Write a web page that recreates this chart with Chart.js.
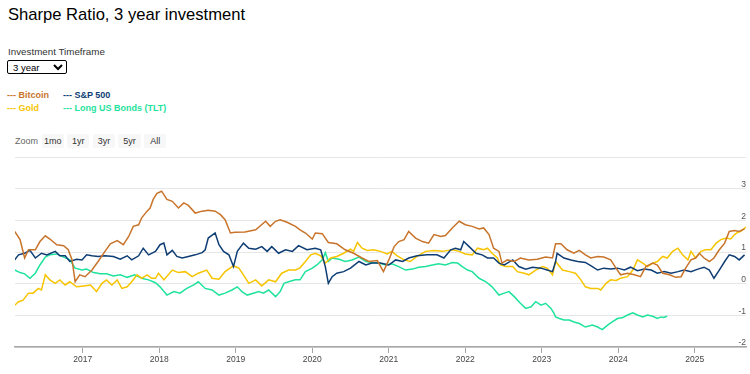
<!DOCTYPE html>
<html>
<head>
<meta charset="utf-8">
<script src="https://cdn.jsdelivr.net/npm/chart.js@4.4.1/dist/chart.umd.min.js"></script>
<style>
html,body{margin:0;padding:0;background:#fff;width:750px;height:374px;overflow:hidden;font-family:"Liberation Sans",Arial,sans-serif;}
#title{position:absolute;left:8px;top:6.6px;font-size:16.6px;line-height:16.6px;color:#000;white-space:nowrap;}
#tfLabel{position:absolute;left:8px;top:47px;font-size:9.8px;line-height:9.8px;color:#333;white-space:nowrap;}
#tf{position:absolute;left:7px;top:59.5px;width:60px;height:14px;box-sizing:border-box;font-family:"Liberation Sans",Arial,sans-serif;font-size:9.5px;padding:0 0 0 1px;border:1px solid #000;border-radius:2px;background:#fff;color:#000;}
.lg{position:absolute;font-size:9px;line-height:9px;font-weight:bold;white-space:nowrap;}
#zoomLabel{position:absolute;left:15px;top:137px;font-size:9px;line-height:9px;color:#666;}
.btn{position:absolute;top:134px;width:22.3px;height:14.3px;line-height:14.3px;text-align:center;font-size:9px;color:#333;background:#f7f7f7;border-radius:2px;}
#chartBox{position:absolute;left:0;top:150px;width:750px;height:224px;}
</style>
</head>
<body>
<div id="title">Sharpe Ratio, 3 year investment</div>
<div id="tfLabel">Investment Timeframe</div>
<select id="tf"><option>3 year</option><option>1 year</option><option>5 year</option></select>
<div id="legend"></div>
<div id="zoomLabel">Zoom</div>
<div id="zoomBtns"></div>
<div id="chartBox"><canvas id="c"></canvas></div>
<script>
// ---- data (decimal years, Sharpe ratio) ----
const seriesNames = ['Bitcoin', 'S&P 500', 'Gold', 'Long US Bonds (TLT)'];

const btcYears = [2016.11,2016.18,2016.24,2016.29,2016.38,2016.44,2016.51,2016.57,2016.66,2016.75,2016.81,2016.86,2016.90,2016.96,2017.03,2017.12,2017.20,2017.29,2017.36,2017.45,2017.53,2017.60,2017.66,2017.73,2017.77,2017.84,2017.88,2017.92,2017.97,2018.03,2018.10,2018.17,2018.25,2018.32,2018.38,2018.47,2018.56,2018.64,2018.73,2018.80,2018.86,2018.93,2018.99,2019.12,2019.26,2019.39,2019.45,2019.52,2019.58,2019.67,2019.78,2019.84,2019.91,2020.00,2020.04,2020.13,2020.21,2020.32,2020.43,2020.54,2020.65,2020.74,2020.85,2020.93,2021.00,2021.07,2021.13,2021.20,2021.26,2021.35,2021.44,2021.52,2021.59,2021.68,2021.74,2021.83,2021.92,2022.00,2022.09,2022.18,2022.24,2022.31,2022.37,2022.44,2022.48,2022.55,2022.64,2022.72,2022.83,2022.94,2023.05,2023.14,2023.18,2023.25,2023.33,2023.42,2023.49,2023.57,2023.64,2023.73,2023.81,2023.90,2023.97,2024.03,2024.12,2024.21,2024.29,2024.36,2024.45,2024.51,2024.58,2024.67,2024.75,2024.82,2024.88,2024.95,2025.01,2025.06,2025.12,2025.19,2025.25,2025.32,2025.39,2025.45,2025.52,2025.58,2025.65];
const btcValues = [1.65,1.39,0.81,1.07,1.07,1.33,1.51,1.41,1.23,1.20,1.07,0.75,0.06,0.28,0.22,0.43,0.70,1.02,1.26,1.36,1.23,1.49,1.81,1.86,2.08,2.29,2.39,2.66,2.85,2.92,2.66,2.60,2.39,2.55,2.47,2.23,2.29,2.32,2.29,2.18,2.02,1.60,1.62,1.63,1.70,1.97,1.81,1.97,2.02,1.94,1.81,1.70,1.60,1.41,1.60,1.58,1.30,1.26,1.07,0.96,0.81,0.70,0.73,0.38,0.75,1.17,1.33,1.39,1.65,1.44,1.33,1.28,1.55,1.49,1.52,1.76,1.97,1.86,1.81,1.73,1.76,1.55,1.12,1.02,0.65,0.75,0.70,0.81,0.75,0.77,0.84,0.81,1.26,1.26,1.07,0.96,1.05,0.91,0.81,0.86,0.84,0.75,0.49,0.28,0.33,0.28,0.22,0.54,0.65,0.59,0.33,0.28,0.20,0.22,0.49,0.75,0.81,0.96,0.81,0.70,0.81,1.07,1.28,1.65,1.68,1.65,1.73];

const spxYears = [2016.11,2016.16,2016.24,2016.31,2016.38,2016.46,2016.53,2016.64,2016.70,2016.77,2016.83,2016.92,2016.99,2017.05,2017.12,2017.20,2017.29,2017.40,2017.49,2017.58,2017.64,2017.73,2017.79,2017.86,2017.95,2018.01,2018.06,2018.10,2018.17,2018.23,2018.30,2018.38,2018.47,2018.56,2018.60,2018.64,2018.73,2018.78,2018.84,2018.91,2018.97,2019.02,2019.10,2019.17,2019.26,2019.34,2019.41,2019.47,2019.56,2019.65,2019.74,2019.82,2019.93,2020.04,2020.11,2020.17,2020.21,2020.26,2020.32,2020.41,2020.50,2020.61,2020.70,2020.78,2020.89,2021.00,2021.09,2021.18,2021.26,2021.37,2021.50,2021.63,2021.72,2021.81,2021.87,2021.94,2021.98,2022.05,2022.14,2022.22,2022.29,2022.37,2022.44,2022.51,2022.62,2022.70,2022.79,2022.88,2022.99,2023.07,2023.14,2023.18,2023.20,2023.29,2023.38,2023.47,2023.57,2023.66,2023.73,2023.81,2023.90,2023.99,2024.08,2024.16,2024.25,2024.34,2024.43,2024.51,2024.60,2024.69,2024.78,2024.86,2024.95,2025.04,2025.12,2025.19,2025.25,2025.32,2025.39,2025.45,2025.52,2025.58,2025.65];
const spxValues = [0.75,0.91,0.96,1.05,0.81,0.96,0.91,1.02,0.88,0.88,0.70,0.77,0.75,0.91,0.88,0.86,0.88,0.86,0.77,0.88,0.75,0.88,1.12,0.91,1.02,1.23,1.28,0.91,1.05,0.86,0.81,0.86,0.91,0.98,1.07,1.44,1.60,1.23,1.02,0.91,0.54,1.02,1.28,1.12,1.09,1.17,1.02,1.17,0.96,1.07,1.02,1.20,1.07,1.12,1.07,0.54,0.01,0.22,0.33,0.38,0.49,0.70,0.59,0.65,0.65,0.59,0.75,0.70,0.81,0.88,0.91,0.91,0.81,1.07,1.12,1.07,1.33,1.17,0.96,0.91,0.81,0.81,0.65,0.59,0.75,0.54,0.46,0.52,0.49,0.43,0.38,0.70,0.96,0.81,0.75,0.70,0.67,0.54,0.43,0.49,0.46,0.49,0.43,0.52,0.41,0.46,0.43,0.33,0.38,0.33,0.38,0.43,0.38,0.46,0.52,0.43,0.17,0.43,0.70,0.91,0.86,0.75,0.91];

const goldYears = [2016.11,2016.16,2016.22,2016.29,2016.35,2016.42,2016.46,2016.51,2016.57,2016.64,2016.70,2016.77,2016.83,2016.92,2017.01,2017.10,2017.18,2017.25,2017.31,2017.38,2017.45,2017.51,2017.58,2017.64,2017.71,2017.77,2017.84,2017.90,2017.95,2017.99,2018.06,2018.17,2018.25,2018.34,2018.43,2018.51,2018.62,2018.69,2018.78,2018.86,2018.97,2019.04,2019.10,2019.17,2019.26,2019.34,2019.43,2019.52,2019.60,2019.69,2019.78,2019.84,2019.91,2019.98,2020.04,2020.11,2020.17,2020.24,2020.32,2020.41,2020.50,2020.54,2020.59,2020.65,2020.72,2020.80,2020.89,2020.98,2021.04,2021.11,2021.20,2021.28,2021.37,2021.48,2021.59,2021.70,2021.83,2021.92,2022.00,2022.09,2022.16,2022.24,2022.29,2022.35,2022.42,2022.46,2022.53,2022.62,2022.68,2022.77,2022.83,2022.92,2023.01,2023.07,2023.14,2023.18,2023.27,2023.36,2023.44,2023.51,2023.57,2023.64,2023.73,2023.77,2023.84,2023.90,2023.97,2024.03,2024.12,2024.19,2024.25,2024.32,2024.38,2024.45,2024.51,2024.58,2024.64,2024.71,2024.78,2024.84,2024.91,2024.95,2025.01,2025.08,2025.14,2025.21,2025.28,2025.34,2025.41,2025.47,2025.52,2025.56,2025.60,2025.67];
const goldValues = [-0.68,-0.57,-0.52,-0.30,-0.30,-0.15,-0.20,0.28,0.12,0.01,0.12,-0.04,0.06,-0.10,-0.07,-0.04,-0.25,0.01,0.12,-0.04,0.12,-0.15,-0.10,0.06,0.28,0.17,0.28,0.17,0.17,0.33,0.12,0.43,0.35,0.38,0.22,0.33,0.43,0.17,0.14,0.38,0.56,0.49,0.28,0.01,0.12,-0.07,0.12,0.06,0.33,0.43,0.43,0.50,0.70,0.91,0.96,0.88,0.65,0.81,0.86,0.96,1.09,1.02,1.30,1.12,1.05,1.07,1.02,0.94,1.02,0.88,0.75,0.70,0.86,1.02,1.05,1.02,1.07,1.02,0.94,0.91,1.12,1.07,1.12,0.96,0.81,0.59,0.54,0.54,0.38,0.33,0.28,0.43,0.54,0.49,0.28,0.70,0.43,0.38,0.33,0.12,-0.10,-0.15,-0.15,-0.20,0.01,0.12,0.10,0.17,0.22,0.43,0.75,0.65,0.54,0.65,0.70,0.86,0.81,1.02,1.12,0.91,0.75,1.02,0.81,1.02,1.07,1.07,1.28,1.39,1.44,1.41,1.55,1.62,1.65,1.79];

const tltYears = [2016.11,2016.18,2016.24,2016.31,2016.38,2016.44,2016.51,2016.57,2016.66,2016.75,2016.83,2016.90,2016.99,2017.05,2017.14,2017.23,2017.31,2017.40,2017.49,2017.58,2017.68,2017.77,2017.86,2017.95,2018.01,2018.10,2018.19,2018.27,2018.36,2018.45,2018.51,2018.60,2018.69,2018.78,2018.86,2018.95,2019.02,2019.08,2019.15,2019.23,2019.30,2019.36,2019.43,2019.52,2019.58,2019.63,2019.69,2019.78,2019.84,2019.91,2020.00,2020.06,2020.13,2020.17,2020.21,2020.26,2020.35,2020.43,2020.52,2020.61,2020.70,2020.78,2020.87,2020.96,2021.04,2021.13,2021.22,2021.31,2021.39,2021.48,2021.57,2021.65,2021.74,2021.83,2021.90,2021.96,2022.03,2022.09,2022.18,2022.27,2022.35,2022.44,2022.51,2022.57,2022.64,2022.72,2022.79,2022.86,2022.92,2022.99,2023.05,2023.12,2023.16,2023.18,2023.23,2023.29,2023.36,2023.42,2023.49,2023.57,2023.66,2023.73,2023.79,2023.86,2023.92,2023.99,2024.06,2024.12,2024.19,2024.25,2024.32,2024.38,2024.45,2024.51,2024.56,2024.59,2024.64];
const tltValues = [0.43,0.35,0.31,0.17,0.33,0.59,0.84,0.91,0.94,0.84,0.75,0.49,0.43,0.46,0.35,0.31,0.31,0.24,0.28,0.20,0.28,0.17,0.12,0.03,-0.10,-0.36,-0.25,-0.30,-0.15,-0.04,0.06,-0.15,-0.20,-0.36,-0.30,-0.20,-0.10,-0.25,-0.36,-0.30,-0.25,-0.30,-0.20,-0.41,-0.25,0.01,0.06,0.12,0.12,0.38,0.49,0.59,0.75,0.98,0.70,0.81,0.77,0.70,0.75,0.84,0.70,0.67,0.65,0.59,0.63,0.54,0.43,0.46,0.52,0.54,0.59,0.63,0.59,0.67,0.65,0.54,0.43,0.38,0.17,0.06,-0.10,-0.36,-0.30,-0.25,-0.41,-0.62,-0.78,-0.73,-0.57,-0.68,-0.62,-0.78,-0.94,-1.05,-1.10,-1.15,-1.15,-1.21,-1.26,-1.37,-1.31,-1.37,-1.45,-1.31,-1.21,-1.10,-1.07,-0.99,-0.92,-0.99,-1.05,-0.99,-1.03,-1.10,-1.05,-1.07,-1.03];

const xTickYears = [2017, 2018, 2019, 2020, 2021, 2022, 2023, 2024, 2025];
const yTickValues = [-2, -1, 0, 1, 2, 3, 4];
const yTickLabels = ['-2', '-1', '0', '1', '2', '3', ''];
const zoomButtons = ['1mo', '1yr', '3yr', '5yr', 'All'];

// ---- styles ----
const seriesColors = ['#c8742b', '#0e3d74', '#f7c400', '#1fe39c'];
const FONT = '"Liberation Sans", Arial, sans-serif';

// legend (page HTML)
const legendPos = [[7, 90.8], [63, 90.8], [7, 103.9], [63, 103.9]];
const legendEl = document.getElementById('legend');
seriesNames.forEach((n, i) => {
  const d = document.createElement('div');
  d.className = 'lg';
  d.style.left = legendPos[i][0] + 'px';
  d.style.top = legendPos[i][1] + 'px';
  d.style.color = seriesColors[i];
  d.textContent = '--- ' + n;
  legendEl.appendChild(d);
});
const zb = document.getElementById('zoomBtns');
zoomButtons.forEach((t, i) => {
  const b = document.createElement('div');
  b.className = 'btn';
  b.style.left = (41.6 + i * 25.6) + 'px';
  b.textContent = t;
  zb.appendChild(b);
});

function pts(xs, ys) { return xs.map((x, i) => ({ x: x, y: ys[i] })); }
const seriesData = [pts(btcYears, btcValues), pts(spxYears, spxValues), pts(goldYears, goldValues), pts(tltYears, tltValues)];

new Chart(document.getElementById('c'), {
  type: 'line',
  data: {
    datasets: seriesNames.map((n, i) => ({
      label: n,
      data: seriesData[i],
      borderColor: seriesColors[i],
      backgroundColor: seriesColors[i],
      borderWidth: 1.5,
      pointRadius: 0,
      tension: 0,
      fill: false
    }))
  },
  options: {
    responsive: true,
    maintainAspectRatio: false,
    animation: false,
    layout: { padding: { left: 15, right: 4, top: 7, bottom: 0 } },
    plugins: { legend: { display: false }, tooltip: { enabled: false } },
    scales: {
      x: {
        type: 'linear',
        min: 2016.114,
        max: 2025.669,
        afterBuildTicks: s => { s.ticks = xTickYears.map(v => ({ value: v })); },
        afterFit: s => { s.height = 27; },
        grid: { drawOnChartArea: false, drawTicks: true, tickLength: 6, color: '#a6a6a6' },
        border: { display: true, color: '#a6a6a6', width: 1.5 },
        ticks: { autoSkip: false, maxRotation: 0, padding: 2, color: '#444', font: { family: FONT, size: 8.5 }, callback: v => String(v) }
      },
      y: {
        type: 'linear',
        position: 'right',
        min: -2,
        max: 4,
        afterBuildTicks: s => { s.ticks = yTickValues.map(v => ({ value: v })); },
        afterFit: s => { s.width = 0; },
        grid: { color: '#e6e6e6', lineWidth: 1, drawTicks: false },
        border: { display: false },
        ticks: { mirror: true, padding: 0, labelOffset: -4, color: '#555', font: { family: FONT, size: 8.5 },
          callback: v => yTickLabels[yTickValues.indexOf(v)] }
      }
    }
  }
});
</script>
</body>
</html>
